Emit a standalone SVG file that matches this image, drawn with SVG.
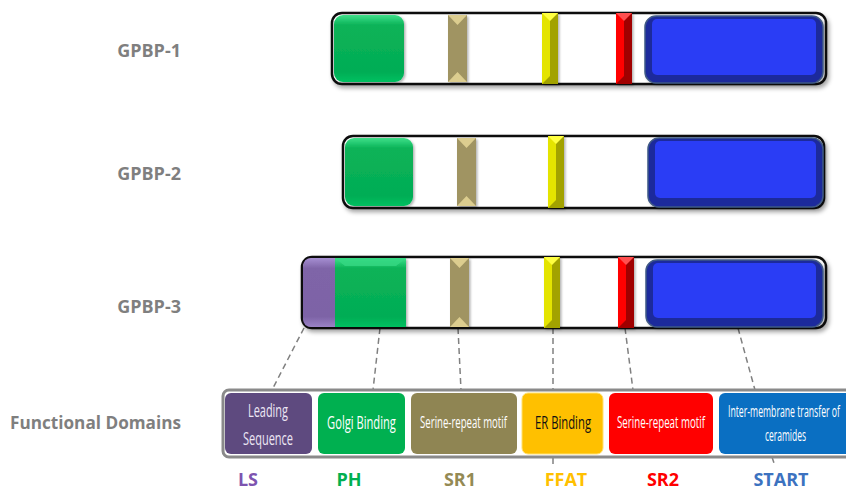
<svg xmlns="http://www.w3.org/2000/svg" width="846" height="491" viewBox="0 0 846 491">
<defs>
  <filter id="sh" x="-10%" y="-20%" width="120%" height="150%">
    <feDropShadow dx="2" dy="3" stdDeviation="2" flood-color="#000" flood-opacity="0.35"/>
  </filter>
  <filter id="sh2" x="-20%" y="-20%" width="140%" height="140%">
    <feDropShadow dx="1.5" dy="1.5" stdDeviation="1.2" flood-color="#000" flood-opacity="0.3"/>
  </filter>
  <linearGradient id="gGreen" x1="0" y1="0" x2="0" y2="1">
    <stop offset="0" stop-color="#3fe08a"/>
    <stop offset="0.15" stop-color="#0bb358"/>
    <stop offset="0.85" stop-color="#03ad55"/>
    <stop offset="1" stop-color="#00c060"/>
  </linearGradient>
  <linearGradient id="gPurple" x1="0" y1="0" x2="0" y2="1">
    <stop offset="0" stop-color="#a68fd2"/>
    <stop offset="0.15" stop-color="#7f65a8"/>
    <stop offset="0.85" stop-color="#7d63a6"/>
    <stop offset="1" stop-color="#9a82c6"/>
  </linearGradient>
  <style>
    .lbl{font-family:"Open Sans","Liberation Sans",sans-serif;font-weight:700;font-size:18px;fill:#7f7f7f}
    .bar{fill:#fff;stroke:#111;stroke-width:2.5}
    .conn{stroke:#808080;stroke-width:1.5;stroke-dasharray:6 4;fill:none}
    .box{font-family:"Open Sans","Liberation Sans",sans-serif;font-size:15px;fill:#fff;text-anchor:middle}
    .abbr{font-family:"Open Sans","Liberation Sans",sans-serif;font-weight:700;font-size:18px;text-anchor:middle}
    .tan{fill:#a09462}.tanL{fill:#dccd8f}
    .yel{fill:#e4e400}.yelD{fill:#a2a200}.yelL{fill:#ffff40}
    .red{fill:#ff0000}.redD{fill:#a00000}.redL{fill:#ff5050}
    .blueO{fill:#1f2b9c;stroke:#3f5a86;stroke-width:1.5}
    .blueI{fill:#2a3df5}
  </style>
</defs>
<rect width="846" height="491" fill="#fff"/>

<!-- connectors -->
<g id="connectors">
  <line class="conn" x1="304" y1="328" x2="272" y2="390"/>
  <line class="conn" x1="380" y1="328" x2="373" y2="390"/>
  <line class="conn" x1="458" y1="328" x2="461" y2="390"/>
  <line class="conn" x1="553" y1="328" x2="553" y2="390"/>
  <line class="conn" x1="625" y1="328" x2="633" y2="390"/>
  <line class="conn" x1="738" y1="328" x2="755" y2="390"/>
  <line class="conn" x1="553" y1="458" x2="553" y2="464"/>
  <line class="conn" x1="772" y1="457" x2="774" y2="463"/>
</g>

<!-- Row labels -->
<g id="label-gpbp1"><text class="lbl" x="181" y="57" text-anchor="end">GPBP-1</text></g>
<g id="label-gpbp2"><text class="lbl" x="181" y="180" text-anchor="end">GPBP-2</text></g>
<g id="label-gpbp3"><text class="lbl" x="181" y="313" text-anchor="end">GPBP-3</text></g>
<g id="label-fd"><text class="lbl" transform="translate(181,429) scale(0.9,1)" x="0" y="0" text-anchor="end" textLength="190" lengthAdjust="spacingAndGlyphs">Functional Domains</text></g>

<!-- GPBP-1 -->
<g id="gpbp1">
  <rect class="bar" x="332" y="13" width="494" height="71" rx="10" filter="url(#sh)"/>
  <g filter="url(#sh2)">
    <rect x="334" y="15" width="70" height="67" rx="9" fill="url(#gGreen)"/>
    <rect x="448" y="15" width="19" height="67" class="tan"/>
    <polygon class="tanL" points="448,15 467,15 457.5,25"/>
    <polygon class="tanL" points="448,82 467,82 457.5,72"/>
    <rect x="542" y="13" width="16" height="71" class="yel"/>
    <rect x="550" y="13" width="8" height="71" class="yelD"/>
    <polygon class="yelL" points="542,13 558,13 550,21"/>
    <polygon class="yelD" points="542,84 558,84 550,76"/>
    <rect x="616" y="13" width="16" height="71" class="red"/>
    <rect x="624" y="13" width="8" height="71" class="redD"/>
    <polygon class="redL" points="616,13 632,13 624,21"/>
    <polygon class="redD" points="616,84 632,84 624,76"/>
    <rect x="645" y="16" width="178" height="67" rx="11" class="blueO"/>
    <rect x="652" y="19" width="164" height="56" rx="5" class="blueI"/>
  </g>
</g>

<!-- GPBP-2 -->
<g id="gpbp2">
  <rect class="bar" x="343" y="136" width="481" height="72" rx="10" filter="url(#sh)"/>
  <g filter="url(#sh2)">
    <rect x="345" y="138" width="68" height="68" rx="9" fill="url(#gGreen)"/>
    <rect x="457" y="138" width="19" height="68" class="tan"/>
    <polygon class="tanL" points="457,138 476,138 466.5,148"/>
    <polygon class="tanL" points="457,206 476,206 466.5,196"/>
    <rect x="548" y="136" width="16" height="72" class="yel"/>
    <rect x="556" y="136" width="8" height="72" class="yelD"/>
    <polygon class="yelL" points="548,136 564,136 556,144"/>
    <polygon class="yelD" points="548,208 564,208 556,200"/>
    <rect x="648" y="138" width="175" height="69" rx="11" class="blueO"/>
    <rect x="655" y="141" width="161" height="57" rx="5" class="blueI"/>
  </g>
</g>

<!-- GPBP-3 -->
<g id="gpbp3">
  <rect class="bar" x="302" y="257" width="524" height="71" rx="10" filter="url(#sh)"/>
  <g filter="url(#sh2)">
    <path d="M312,258 H335 V327 H312 Q303,327 303,318 V267 Q303,258 312,258 Z" fill="url(#gPurple)"/>
    <rect x="335" y="258" width="71" height="69" fill="url(#gGreen)"/>
    <polygon points="335,258 406,258 396,266 345,266" fill="#35d883" opacity="0.8"/>
    <rect x="450" y="258" width="19" height="69" class="tan"/>
    <polygon class="tanL" points="450,258 469,258 459.5,268"/>
    <polygon class="tanL" points="450,327 469,327 459.5,317"/>
    <rect x="544" y="257" width="16" height="71" class="yel"/>
    <rect x="552" y="257" width="8" height="71" class="yelD"/>
    <polygon class="yelL" points="544,257 560,257 552,265"/>
    <polygon class="yelD" points="544,328 560,328 552,320"/>
    <rect x="618" y="257" width="16" height="71" class="red"/>
    <rect x="626" y="257" width="8" height="71" class="redD"/>
    <polygon class="redL" points="618,257 634,257 626,265"/>
    <polygon class="redD" points="618,328 634,328 626,320"/>
    <rect x="646" y="260" width="177" height="67" rx="11" class="blueO"/>
    <rect x="653" y="263" width="163" height="55" rx="5" class="blueI"/>
  </g>
</g>

<!-- Functional domains strip -->
<g id="domains-strip">
  <rect x="223" y="390" width="640" height="67" rx="6" fill="#fff" stroke="#8a8a8a" stroke-width="3"/>
</g>
<g id="dom-ls">
  <rect x="225" y="393" width="87" height="61" rx="6" fill="#5e4a7f"/>
  <text class="box" transform="translate(268,417) scale(0.61,1)" x="0" y="0" textLength="65.6" lengthAdjust="spacingAndGlyphs" style="font-size:18px;fill:#ece6f4">Leading</text>
  <text class="box" transform="translate(268,445) scale(0.61,1)" x="0" y="0" textLength="82" lengthAdjust="spacingAndGlyphs" style="font-size:18px;fill:#ece6f4">Sequence</text>
</g>
<g id="dom-ph">
  <rect x="318" y="393" width="87" height="61" rx="6" fill="#00b050"/>
  <text class="box" transform="translate(361.5,429) scale(0.62,1)" x="0" y="0" textLength="111" lengthAdjust="spacingAndGlyphs" style="font-size:18px">Golgi Binding</text>
</g>
<g id="dom-sr1">
  <rect x="411" y="393" width="106" height="61" rx="6" fill="#8f8553"/>
  <text class="box" transform="translate(463.5,428) scale(0.575,1)" x="0" y="0" textLength="151" lengthAdjust="spacingAndGlyphs" style="font-size:16px">Serine-repeat motif</text>
</g>
<g id="dom-ffat">
  <rect x="522" y="393" width="81" height="61" rx="6" fill="#ffc000" stroke="#ffe070" stroke-width="1"/>
  <text class="box" transform="translate(563,429) scale(0.63,1)" x="0" y="0" textLength="89" lengthAdjust="spacingAndGlyphs" style="font-size:18px;fill:#111">ER Binding</text>
</g>
<g id="dom-sr2">
  <rect x="609" y="393" width="104" height="61" rx="6" fill="#ff0000"/>
  <text class="box" transform="translate(661,428) scale(0.58,1)" x="0" y="0" textLength="151.7" lengthAdjust="spacingAndGlyphs" style="font-size:16px">Serine-repeat motif</text>
</g>
<g id="dom-start">
  <rect x="719" y="393" width="140" height="61" rx="6" fill="#0a6fc2"/>
  <text class="box" transform="translate(784,417) scale(0.51,1)" x="0" y="0" textLength="219.6" lengthAdjust="spacingAndGlyphs" style="font-size:16px">Inter-membrane transfer of</text>
  <text class="box" transform="translate(785.5,441) scale(0.53,1)" x="0" y="0" textLength="77.4" lengthAdjust="spacingAndGlyphs" style="font-size:16px">ceramides</text>
</g>

<!-- abbreviations -->
<g id="abbr-ls"><text class="abbr" x="248" y="486" fill="#7d54b0">LS</text></g>
<g id="abbr-ph"><text class="abbr" x="349" y="486" fill="#00b050">PH</text></g>
<g id="abbr-sr1"><text class="abbr" x="460" y="486" fill="#948a54">SR1</text></g>
<g id="abbr-ffat"><text class="abbr" x="566" y="486" fill="#ffc000">FFAT</text></g>
<g id="abbr-sr2"><text class="abbr" x="663" y="486" fill="#ff0000">SR2</text></g>
<g id="abbr-start"><text class="abbr" x="781" y="486" fill="#3c72c0">START</text></g>
</svg>
